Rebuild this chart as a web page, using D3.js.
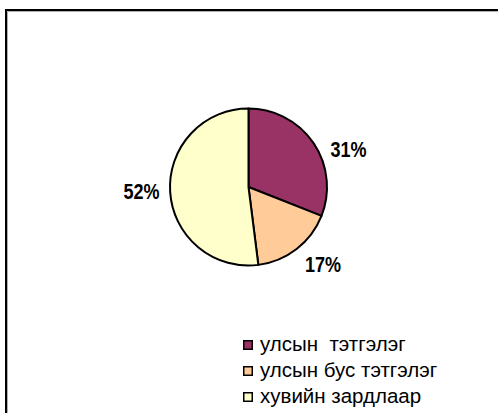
<!DOCTYPE html>
<html>
<head>
<meta charset="utf-8">
<script src="https://cdn.jsdelivr.net/npm/d3@7"></script>
<style>
  body { margin: 0; background: #fff; }
  svg { display: block; }
</style>
</head>
<body>
<script>
  // data
  var categories = ["улсын  тэтгэлэг", "улсын бус тэтгэлэг", "хувийн зардлаар"];
  var values = [31, 17, 52];
  var colors = ["#993366", "#FFCC99", "#FFFFCC"];

  var width = 498, height = 413;
  var cx = 248.5, cy = 187, radius = 78.5;

  var svg = d3.select("body").append("svg")
    .attr("width", width)
    .attr("height", height);

  // chart frame
  svg.append("path")
    .attr("d", "M7.5," + height + "V11.5H" + width)
    .attr("fill", "none")
    .attr("stroke", "#b0b0b0")
    .attr("stroke-width", 1);
  svg.append("path")
    .attr("d", "M6," + height + "V10H" + width)
    .attr("fill", "none")
    .attr("stroke", "#000")
    .attr("stroke-width", 2);

  var pie = d3.pie().sort(null).value(function(d) { return d; });
  var arcs = pie(values);

  var arc = d3.arc().innerRadius(0).outerRadius(radius);

  var g = svg.append("g")
    .attr("transform", "translate(" + cx + "," + cy + ")");

  g.selectAll(".slice")
    .data(arcs)
    .enter().append("path")
    .attr("class", "slice")
    .attr("d", arc)
    .attr("fill", function(d, i) { return colors[i]; })
    .attr("stroke", "#000")
    .attr("stroke-width", 2)
    .attr("stroke-linejoin", "round");

  // labels outside the pie, nudged a bit like excel places them
  var labelR = 107;
  var nudge = [13.4, -6.3, 1.5];
  function labelPos(d, i) {
    var a = (d.startAngle + d.endAngle) / 2 + nudge[i] * Math.PI / 180;
    return [labelR * Math.sin(a), -labelR * Math.cos(a)];
  }

  g.selectAll(".plabel")
    .data(arcs)
    .enter().append("text")
    .attr("class", "plabel")
    .attr("transform", function(d, i) {
      var p = labelPos(d, i);
      return "translate(" + p[0] + "," + p[1] + ") scale(0.82,1)";
    })
    .attr("dy", "0.36em")
    .attr("text-anchor", "middle")
    .style("font-family", "'Liberation Sans', Arial, sans-serif")
    .style("font-weight", "bold")
    .style("font-size", "22px")
    .text(function(d) { return d.data + "%"; });

  // legend
  var legend = svg.append("g")
    .attr("transform", "translate(243,340)");

  var rows = legend.selectAll(".row")
    .data(categories)
    .enter().append("g")
    .attr("class", "row")
    .attr("transform", function(d, i) { return "translate(0," + i * 26 + ")"; });

  rows.append("rect")
    .attr("x", 0.75)
    .attr("y", 0.75)
    .attr("width", 8.5)
    .attr("height", 8.5)
    .attr("fill", function(d, i) { return colors[i]; })
    .attr("stroke", "#000")
    .attr("stroke-width", 1.5);

  rows.append("text")
    .attr("x", 17)
    .attr("y", 11)
    .style("font-family", "'Liberation Sans', Arial, sans-serif")
    .style("font-size", "20.5px")
    .style("white-space", "pre")
    .text(function(d) { return d; });
</script>
</body>
</html>
